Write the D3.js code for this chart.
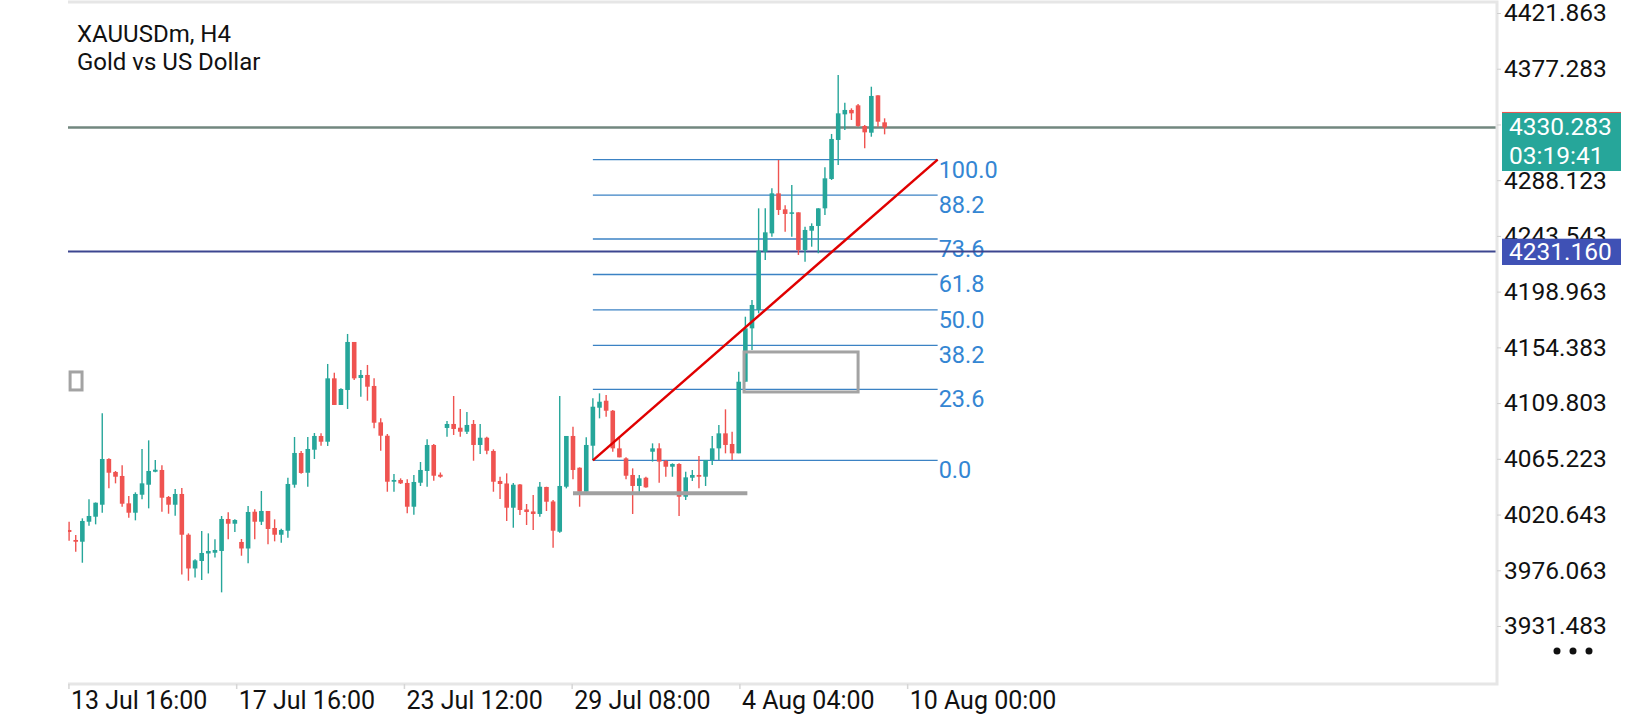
<!DOCTYPE html>
<html>
<head>
<meta charset="utf-8">
<script src="https://cdn.jsdelivr.net/npm/d3@7"></script>
<style>
body { margin: 0; background: #fff; }
text { font-family: Roboto, "Noto Sans", sans-serif; }
</style>
</head>
<body>
<script>
// XAUUSDm H4 candles, oldest first
var opens = [4008.3, 4000.3, 3998.9, 4014.9, 4018.9, 4028.5, 4065.1, 4054.7, 4051.5, 4029.6,
	4022.1, 4036.5, 4044.5, 4054.9, 4056.3, 4034.7, 4028.5, 4037.1, 4004.5, 3977.5,
	3983.5, 3989.5, 3990.1, 3991.5, 4017.1, 4013.3, 3998.7, 3993.5, 4022.9, 4014.9,
	4023.5, 4009.9, 4004.5, 4007.7, 4044.5, 4069.9, 4054.1, 4072.5, 4083.5, 4078.9,
	4129.6, 4108.3, 4120.3, 4158.7, 4129.9, 4132.3, 4123.5, 4094.4, 4083.7, 4046.9,
	4048.3, 4045.9, 4026.9, 4046.1, 4055.5, 4076.3, 4052.5, 4089.9, 4093.1, 4090.1,
	4086.9, 4093.1, 4076.3, 4082.1, 4071.5, 4047.5, 4045.5, 4026.1, 4044.7, 4024.7,
	4023.1, 4021.1, 4042.7, 4031.1, 4006.9, 4042.9, 4083.5, 4058.1, 4038.9, 4075.7,
	4106.1, 4111.7, 4103.7, 4073.6, 4065.6, 4052.3, 4043.5, 4050.1, 4070.9, 4073.6,
	4063.5, 4058.9, 4061.1, 4034.9, 4050.1, 4052.3, 4050.9, 4064.3, 4073.6, 4085.6,
	4077.1, 4069.6, 4126.9, 4169.6, 4184.3, 4230.9, 4245.6, 4277.6, 4264.8, 4261.6,
	4262.4, 4232.3, 4247.7, 4251.5, 4265.6, 4289.1, 4320.3, 4340.8, 4344.3, 4348.0,
	4331.5, 4326.1, 4356.0, 4334.4];

var highs = [4014.9, 4004.3, 4017.6, 4032.8, 4030.3, 4101.6, 4065.6, 4055.5, 4060.0, 4035.5,
	4038.4, 4073.1, 4080.0, 4064.3, 4060.0, 4035.5, 4041.1, 4041.9, 4005.6, 3984.8,
	4007.5, 4005.6, 4000.8, 4019.5, 4022.4, 4016.8, 4001.1, 4027.5, 4024.8, 4039.5,
	4023.5, 4016.8, 4009.3, 4050.1, 4082.7, 4071.5, 4082.7, 4085.9, 4085.6, 4141.1,
	4134.1, 4121.6, 4165.1, 4158.7, 4136.3, 4140.3, 4129.6, 4097.6, 4085.1, 4053.1,
	4049.6, 4048.8, 4052.3, 4062.7, 4080.8, 4077.1, 4054.3, 4095.5, 4115.5, 4105.1,
	4102.7, 4096.3, 4093.1, 4082.9, 4072.8, 4050.9, 4053.6, 4045.9, 4045.1, 4029.1,
	4036.3, 4046.7, 4042.9, 4032.3, 4115.5, 4083.5, 4090.9, 4058.4, 4082.4, 4113.6,
	4117.6, 4116.3, 4104.3, 4082.9, 4066.4, 4057.6, 4052.3, 4050.9, 4077.6, 4077.6,
	4064.3, 4061.6, 4061.6, 4054.9, 4056.3, 4067.5, 4064.3, 4083.5, 4092.3, 4104.8,
	4086.9, 4134.9, 4178.9, 4192.3, 4265.6, 4265.6, 4281.6, 4304.3, 4268.0, 4284.3,
	4262.4, 4250.9, 4253.6, 4265.6, 4298.4, 4325.1, 4372.3, 4350.1, 4345.6, 4349.1,
	4332.3, 4362.9, 4356.0, 4337.6];

var lows = [3999.7, 3990.9, 3982.1, 4011.7, 4012.8, 4022.1, 4041.6, 4045.6, 4026.9, 4018.1,
	4016.0, 4032.8, 4025.6, 4054.4, 4022.9, 4021.3, 4019.7, 3972.7, 3967.7, 3970.3,
	3968.3, 3973.5, 3986.3, 3958.4, 4000.8, 4006.7, 3987.7, 3981.6, 4000.8, 4012.3,
	3996.8, 3999.2, 3998.1, 4002.1, 4042.1, 4053.3, 4042.9, 4065.1, 4075.7, 4075.5,
	4108.3, 4108.3, 4105.1, 4128.3, 4114.9, 4111.7, 4089.6, 4071.7, 4038.9, 4038.9,
	4045.1, 4021.6, 4020.5, 4043.5, 4042.9, 4047.7, 4050.1, 4082.9, 4084.3, 4082.9,
	4085.1, 4063.7, 4069.1, 4068.8, 4038.9, 4033.1, 4015.5, 4010.1, 4020.3, 4012.3,
	4008.3, 4018.9, 4023.5, 3994.1, 4006.1, 4041.6, 4048.8, 4026.9, 4038.9, 4064.0,
	4097.6, 4098.9, 4070.9, 4066.4, 4048.8, 4021.1, 4038.9, 4042.1, 4063.0, 4046.1,
	4050.9, 4050.9, 4019.5, 4032.3, 4047.5, 4041.6, 4043.5, 4060.3, 4064.3, 4069.6,
	4064.3, 4069.6, 4126.9, 4152.3, 4181.6, 4224.3, 4242.9, 4260.3, 4246.9, 4242.9,
	4228.3, 4222.9, 4234.9, 4229.6, 4260.3, 4288.3, 4300.3, 4328.3, 4336.3, 4330.9,
	4313.6, 4322.9, 4330.9, 4324.8];

var closes = [4006.7, 3998.9, 4015.5, 4019.5, 4030.1, 4065.1, 4054.1, 4050.9, 4029.3, 4022.1,
	4037.1, 4045.6, 4055.5, 4056.5, 4034.1, 4028.5, 4037.1, 4004.5, 3977.5, 3984.0,
	3989.9, 3991.5, 3992.3, 4017.1, 4013.3, 4016.3, 3993.5, 4022.7, 4014.9, 4023.5,
	4009.1, 4004.5, 4008.3, 4045.1, 4069.9, 4053.9, 4073.1, 4083.5, 4078.9, 4129.6,
	4108.3, 4121.1, 4158.7, 4129.6, 4132.3, 4122.9, 4094.1, 4083.7, 4046.9, 4048.3,
	4045.6, 4026.9, 4046.7, 4056.3, 4076.3, 4051.7, 4050.9, 4093.1, 4089.1, 4086.9,
	4092.3, 4076.3, 4082.1, 4071.7, 4046.9, 4045.1, 4026.1, 4044.5, 4024.3, 4022.7,
	4021.1, 4042.9, 4030.9, 4007.7, 4043.5, 4083.5, 4056.3, 4038.9, 4076.3, 4106.9,
	4110.9, 4103.7, 4073.6, 4066.4, 4051.7, 4043.5, 4049.6, 4042.4, 4073.6, 4063.0,
	4058.9, 4061.1, 4034.9, 4050.4, 4052.3, 4050.9, 4064.3, 4073.6, 4085.6, 4076.3,
	4069.6, 4126.9, 4169.6, 4188.3, 4231.7, 4246.4, 4277.6, 4264.3, 4261.1, 4262.4,
	4232.3, 4248.3, 4251.5, 4265.6, 4289.6, 4321.1, 4341.6, 4344.3, 4341.6, 4331.5,
	4326.4, 4355.5, 4334.9, 4330.283];

// axes
var priceTicks = [4421.863, 4377.283, 4332.703, 4288.123, 4243.543, 4198.963,
	4154.383, 4109.803, 4065.223, 4020.643, 3976.063, 3931.483];
var dateTickBars = [-0.1, 25.2, 50.5, 75.8, 101.1, 126.4];
var dateLabels = ["13 Jul 16:00", "17 Jul 16:00", "23 Jul 12:00", "29 Jul 08:00", "4 Aug 04:00", "10 Aug 00:00"];

// objects on the chart
var currentPrice = 4330.283;
var countdown = "03:19:41";
var levelPrice = 4231.160;
var fibLevels = [0, 23.6, 38.2, 50, 61.8, 73.6, 88.2, 100];
var fibLow = 4064.0, fibHigh = 4304.6;
var fibStartBar = 79, fibEndBar = 131;
var supportPrice = 4037.6, supportStartBar = 76, supportEndBar = 102.3;
var boxBars = [101.8, 119], boxPrices = [4150.7, 4118.7];
var smallBoxBars = [0.15, 1.95], smallBoxPrices = [4134.7, 4120.3];

var width = 1640;
var height = 720;
var plotLeft = 68, plotRight = 1497, plotTop = 2, plotBottom = 684;
var up = "#26a69a", down = "#ef5350";

var svg = d3.select("body").append("svg")
	.attr("width", width)
	.attr("height", height);

var x = d3.scaleLinear().domain([0, 123]).range([69.1, 884.6]);
var y = d3.scaleLinear().domain([3931.483, 4421.863]).range([626, 13]);

svg.append("clipPath").attr("id", "plot")
	.append("rect")
	.attr("x", plotLeft).attr("y", plotTop + 1)
	.attr("width", plotRight - plotLeft - 1).attr("height", plotBottom - plotTop - 2);

var plot = svg.append("g").attr("clip-path", "url(#plot)");

// fibonacci levels
var fibY = function(l) { return y(fibLow + (fibHigh - fibLow) * l / 100); };

plot.selectAll(".fib")
	.data(fibLevels)
	.enter()
	.append("line")
	.attr("x1", x(fibStartBar))
	.attr("x2", x(fibEndBar))
	.attr("y1", fibY)
	.attr("y2", fibY)
	.attr("stroke", "#3b82c4")
	.attr("stroke-width", 1.3);

plot.selectAll(".fibtext")
	.data(fibLevels)
	.enter()
	.append("text")
	.text(function(d) { return d.toFixed(1); })
	.attr("x", x(fibEndBar) + 1)
	.attr("y", function(d) { return fibY(d) + 18; })
	.attr("fill", "#3486d3")
	.attr("font-size", "23.5px");

// horizontal price lines
plot.append("line")
	.attr("x1", plotLeft).attr("x2", plotRight)
	.attr("y1", y(currentPrice)).attr("y2", y(currentPrice))
	.attr("stroke", "#72877f")
	.attr("stroke-width", 2.5);

plot.append("line")
	.attr("x1", plotLeft).attr("x2", plotRight)
	.attr("y1", y(levelPrice)).attr("y2", y(levelPrice))
	.attr("stroke", "#3c4690")
	.attr("stroke-width", 2);

// candles
var bars = d3.range(opens.length);

plot.selectAll(".wick")
	.data(bars)
	.enter()
	.append("line")
	.attr("x1", function(i) { return x(i); })
	.attr("x2", function(i) { return x(i); })
	.attr("y1", function(i) { return y(highs[i]); })
	.attr("y2", function(i) { return y(lows[i]); })
	.attr("stroke", function(i) { return closes[i] >= opens[i] ? up : down; })
	.attr("stroke-width", 1.4);

plot.selectAll(".body")
	.data(bars)
	.enter()
	.append("rect")
	.attr("x", function(i) { return x(i) - 2.3; })
	.attr("width", 4.6)
	.attr("y", function(i) { return y(Math.max(opens[i], closes[i])); })
	.attr("height", function(i) {
		return Math.max(1.5, Math.abs(y(opens[i]) - y(closes[i])));
	})
	.attr("fill", function(i) { return closes[i] >= opens[i] ? up : down; });

// drawn objects
plot.append("line")
	.attr("x1", x(fibStartBar)).attr("y1", y(fibLow))
	.attr("x2", x(fibEndBar)).attr("y2", y(fibHigh))
	.attr("stroke", "#e00000")
	.attr("stroke-width", 2.5);

plot.append("line")
	.attr("x1", x(supportStartBar)).attr("x2", x(supportEndBar))
	.attr("y1", y(supportPrice)).attr("y2", y(supportPrice))
	.attr("stroke", "#a0a0a0")
	.attr("stroke-width", 4);

plot.append("rect")
	.attr("x", x(boxBars[0])).attr("y", y(boxPrices[0]))
	.attr("width", x(boxBars[1]) - x(boxBars[0]))
	.attr("height", y(boxPrices[1]) - y(boxPrices[0]))
	.attr("fill", "none")
	.attr("stroke", "#a3a3a3")
	.attr("stroke-width", 3);

plot.append("rect")
	.attr("x", x(smallBoxBars[0])).attr("y", y(smallBoxPrices[0]))
	.attr("width", x(smallBoxBars[1]) - x(smallBoxBars[0]))
	.attr("height", y(smallBoxPrices[1]) - y(smallBoxPrices[0]))
	.attr("fill", "none")
	.attr("stroke", "#a3a3a3")
	.attr("stroke-width", 3);

// frame
svg.append("path")
	.attr("d", "M" + plotLeft + "," + plotTop + "H" + plotRight + "V" + plotBottom + "H" + plotLeft)
	.attr("fill", "none")
	.attr("stroke", "#e6e6e6")
	.attr("stroke-width", 3);

// price tags sit over these ticks, so their labels are left out
var tagX = plotRight + 5, tagW = 119;
var hidden = function(d) { return Math.abs(y(d) - y(currentPrice)) < 10; };

var yAxis = svg.append("g")
	.attr("transform", "translate(" + plotRight + ",0)")
	.call(d3.axisRight(y).tickValues(priceTicks).tickSize(4).tickPadding(3)
		.tickFormat(function(d) { return hidden(d) ? "" : d3.format(".3f")(d); }));
yAxis.select(".domain").remove();
yAxis.selectAll("line").attr("stroke", "#cfcfcf");
yAxis.selectAll("text")
	.attr("fill", "#111")
	.attr("font-size", "24.5px")
	.attr("font-family", "Roboto, sans-serif");

// time axis
var xAxis = svg.append("g")
	.attr("transform", "translate(0," + plotBottom + ")")
	.call(d3.axisBottom(x).tickValues(dateTickBars).tickSize(5)
		.tickFormat(function(d, i) { return dateLabels[i]; }));
xAxis.select(".domain").remove();
xAxis.selectAll("line").attr("stroke", "#d6d6d6").attr("stroke-width", 1.5);
xAxis.selectAll("text")
	.attr("text-anchor", "start")
	.attr("x", 2)
	.attr("y", 7)
	.attr("fill", "#111")
	.attr("font-size", "25px")
	.attr("font-family", "Roboto, sans-serif");

// price tags
svg.append("rect")
	.attr("x", tagX).attr("y", y(currentPrice) - 15.5)
	.attr("width", tagW).attr("height", 59)
	.attr("fill", up);
svg.append("line")
	.attr("x1", tagX).attr("x2", tagX + tagW)
	.attr("y1", y(currentPrice) - 15).attr("y2", y(currentPrice) - 15)
	.attr("stroke", down).attr("stroke-width", 1);
svg.append("text")
	.text(d3.format(".3f")(currentPrice))
	.attr("x", tagX + 7).attr("y", y(currentPrice) + 8)
	.attr("fill", "white").attr("font-size", "24.5px");
svg.append("text")
	.text(countdown)
	.attr("x", tagX + 7).attr("y", y(currentPrice) + 37)
	.attr("fill", "white").attr("font-size", "24.5px");

svg.append("rect")
	.attr("x", tagX).attr("y", y(levelPrice) - 12.7)
	.attr("width", tagW).attr("height", 26.3)
	.attr("fill", "#3f51b5");
svg.append("text")
	.text(d3.format(".3f")(levelPrice))
	.attr("x", tagX + 7).attr("y", y(levelPrice) + 8.6)
	.attr("fill", "white").attr("font-size", "24.5px");

// title
svg.append("text")
	.text("XAUUSDm, H4")
	.attr("x", 77).attr("y", 42)
	.attr("fill", "#111").attr("font-size", "24px");
svg.append("text")
	.text("Gold vs US Dollar")
	.attr("x", 77).attr("y", 70)
	.attr("fill", "#111").attr("font-size", "24px");

// menu dots
svg.selectAll(".dot")
	.data([0, 1, 2])
	.enter()
	.append("circle")
	.attr("cx", function(d) { return 1557 + d * 16; })
	.attr("cy", 651)
	.attr("r", 3.5)
	.attr("fill", "#111");
</script>
</body>
</html>
